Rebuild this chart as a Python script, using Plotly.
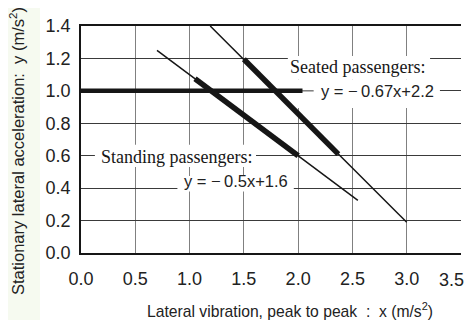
import plotly.graph_objects as go

# ---- data ----
x_ticks = [0.0, 0.5, 1.0, 1.5, 2.0, 2.5, 3.0, 3.5]
y_ticks = [0.0, 0.2, 0.4, 0.6, 0.8, 1.0, 1.2, 1.4]

seated_thin_x = [1.19, 3.0]
seated_thin_y = [1.40, 0.19]
seated_thick_x = [1.5, 2.37]
seated_thick_y = [1.195, 0.61]

standing_thin_x = [0.70, 2.55]
standing_thin_y = [1.25, 0.325]
standing_thick_x = [1.05, 2.0]
standing_thick_y = [1.075, 0.60]

limit_x = [0.0, 2.04]
limit_y = [1.0, 1.0]

seated_label = "Seated passengers:"
seated_eq = "y = \u2212\u20090.67x+2.2"
standing_label = "Standing passengers:"
standing_eq = "y = \u2212\u20090.5x+1.6"
x_title = "Lateral vibration, peak to peak  :  x (m/s<sup>2</sup>)"
y_title = "Stationary lateral acceleration:  y (m/s<sup>2</sup>)"

INK = "#161616"
HGRID = "#3a3a3a"
VGRID = "#808080"

# page is shown with an 8px body offset; margins compensate
OFF = 8
ML, MR, MT, MB = 73, 22, 18, 75
PW, PH = 475 - ML - MR, 320 - MT - MB

def px(page_x):
    return (page_x - OFF - ML) / PW

def py(page_y):
    return 1 - (page_y - OFF - MT) / PH

fig = go.Figure()

def line(x, y, w):
    fig.add_trace(go.Scatter(x=x, y=y, mode="lines",
                             line=dict(color=INK, width=w),
                             hoverinfo="skip", showlegend=False))

line(seated_thin_x, seated_thin_y, 1.5)
line(standing_thin_x, standing_thin_y, 1.5)
line(seated_thick_x, seated_thick_y, 5.5)
line(standing_thick_x, standing_thick_y, 5.5)
line(limit_x, limit_y, 4.5)

# white boxes behind labels (above grid, below traces)
boxes = [
    (1.905, 3.215, 1.068, 1.215),
    (1.905, 3.306, 0.895, 1.068),
    (0.128, 1.612, 0.531, 0.667),
    (0.888, 1.960, 0.380, 0.475),
]
shapes = []
for x0, x1, y0, y1 in boxes:
    shapes.append(dict(type="rect", xref="x", yref="y", x0=x0, x1=x1, y0=y0, y1=y1,
                       fillcolor="white", line=dict(width=0), layer="between"))
shapes.append(dict(type="line", xref="x", yref="y", x0=2.0, x1=2.143, y0=1.0, y1=1.0,
                   line=dict(color=HGRID, width=1), layer="between"))
# pale strip on the far left
shapes.append(dict(type="rect", xref="paper", yref="paper",
                   x0=px(2), x1=px(40), y0=py(330), y1=py(0),
                   fillcolor="#f6faf0", line=dict(width=0), layer="below"))

serif = dict(family="Liberation Serif, Times New Roman, serif", size=18, color=INK)
sans = dict(family="Liberation Sans, Arial, sans-serif", size=16.5, color="#222")
tickfont = dict(family="Liberation Sans, Arial, sans-serif", size=18, color="#222")

annotations = [
    dict(x=2.55, y=1.15, text=seated_label, font=serif),
    dict(x=2.733, y=1.0, text=seated_eq, font=sans),
    dict(x=0.879, y=0.592, text=standing_label, font=serif),
    dict(x=1.429, y=0.444, text=standing_eq, font=sans),
]
for a in annotations:
    a.update(xref="x", yref="y", showarrow=False, xanchor="center", yanchor="middle")

annotations.append(dict(xref="paper", yref="paper", x=px(290), y=py(310),
                        text=x_title, showarrow=False, xanchor="center", yanchor="middle",
                        font=dict(family="Liberation Sans, Arial, sans-serif", size=15.7, color="#222")))
annotations.append(dict(xref="paper", yref="paper", x=px(17), y=py(151),
                        text=y_title, showarrow=False, xanchor="center", yanchor="middle",
                        textangle=-90,
                        font=dict(family="Liberation Sans, Arial, sans-serif", size=16.5, color="#222")))

# last x tick label is placed so it stays inside the visible page
x_ticktext = [f"{v:.1f}" for v in x_ticks]
last_label = x_ticktext[-1]
x_ticktext[-1] = ""
annotations.append(dict(xref="paper", yref="paper", x=px(466), y=py(280),
                        text=last_label, showarrow=False, xanchor="right", yanchor="middle",
                        font=tickfont))

fig.update_layout(
    width=475, height=320,
    margin=dict(l=ML, r=MR, t=MT, b=MB, autoexpand=False),
    paper_bgcolor="white", plot_bgcolor="white",
    font=dict(family="Liberation Sans, Arial, sans-serif", color="#222"),
    shapes=shapes, annotations=annotations,
    xaxis=dict(range=[0, 3.5], tickvals=x_ticks, ticktext=x_ticktext,
               showgrid=True, gridcolor=VGRID, gridwidth=1.2,
               showline=True, linecolor=INK, linewidth=1.5, mirror=True,
               zeroline=False, ticks="", ticklabelstandoff=9, automargin=False,
               tickfont=tickfont),
    yaxis=dict(range=[0, 1.4], tickvals=y_ticks, ticktext=[f"{v:.1f}" for v in y_ticks],
               showgrid=True, gridcolor=HGRID, gridwidth=1,
               showline=True, linecolor=INK, linewidth=1.5,
               zeroline=False, ticks="", ticklabelstandoff=5, automargin=False,
               tickfont=tickfont),
)

fig.write_html("out.html")
